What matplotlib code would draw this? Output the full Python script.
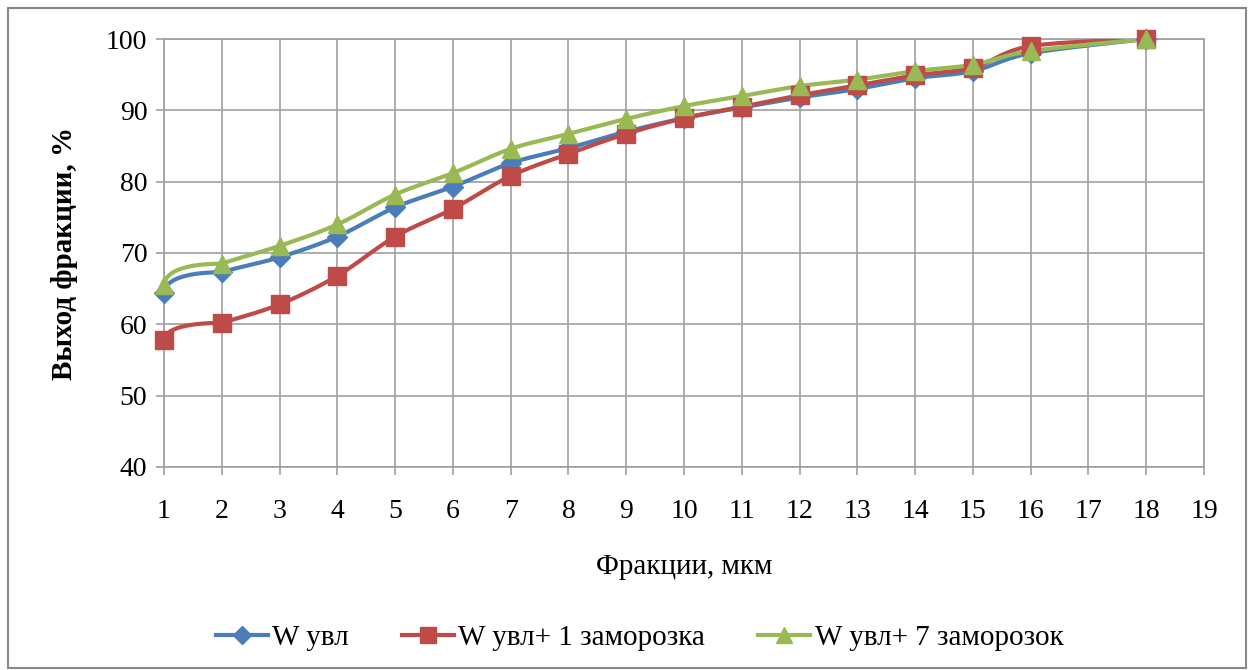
import numpy as np
import matplotlib
matplotlib.use("Agg")
import matplotlib.pyplot as plt
from matplotlib.patches import Rectangle

x_vals = [1, 2, 3, 4, 5, 6, 7, 8, 9, 10, 11, 12, 13, 14, 15, 16, 18]
w_uvl = [64.4, 67.3, 69.4, 72.3, 76.4, 79.3, 82.6, 84.7, 87.0, 88.9, 90.4, 91.8, 93.0, 94.5, 95.5, 98.0, 100.0]
w_uvl_1 = [57.8, 60.2, 62.8, 66.8, 72.3, 76.2, 80.8, 83.9, 86.7, 88.9, 90.5, 92.1, 93.5, 94.9, 96.0, 99.0, 100.0]
w_uvl_7 = [65.5, 68.5, 71.0, 74.0, 78.2, 81.2, 84.6, 86.7, 88.8, 90.6, 92.0, 93.4, 94.3, 95.5, 96.4, 98.3, 100.0]
labels = ["W увл", "W увл+ 1 заморозка", "W увл+ 7 заморозок"]
colors = ["#4A7EBB", "#BE4B48", "#98B954"]
markers = ["D", "s", "^"]
msizes = [10, 13, 13]

x_ticks = list(range(1, 20))
y_ticks = list(range(40, 101, 10))


def bez(p1, c1, c2, p2, n=30):
    t = np.linspace(0, 1, n)[:, None]
    return (1 - t) ** 3 * p1 + 3 * (1 - t) ** 2 * t * c1 + 3 * (1 - t) * t ** 2 * c2 + t ** 3 * p2


def smooth(xs, ys):
    P = np.column_stack([np.asarray(xs, float), np.asarray(ys, float)])
    segs = []
    for i in range(len(P) - 1):
        p1, p2 = P[i], P[i + 1]
        p0 = P[i - 1] if i > 0 else None
        p3 = P[i + 2] if i + 2 < len(P) else p2
        if p0 is None:
            # Excel-like steep start with bulge
            dy = p2[1] - p1[1]
            c1 = p1 + np.array([0.03, 0.85 * dy])
            c2 = p2 - np.array([0.4, 0.0])
        else:
            c1 = p1 + (p2 - p0) / 6.0
            c2 = p2 - (p3 - p1) / 6.0
        segs.append(bez(p1, c1, c2, p2))
    B = np.vstack(segs)
    return B[:, 0], B[:, 1]


plt.rcParams['font.family'] = ['Liberation Serif', 'DejaVu Serif']

fig = plt.figure(figsize=(12.54, 6.7), dpi=100)
ax = fig.add_axes([164 / 1254, 1 - 467 / 670, (1204 - 164) / 1254, (467 - 39) / 670])

for ys, lab, c, m, ms in zip([w_uvl, w_uvl_1, w_uvl_7], labels, colors, markers, msizes):
    sx, sy = smooth(x_vals, ys)
    ax.plot(sx, sy, color=c, lw=3.0, zorder=3, solid_capstyle='round')
    ax.plot(x_vals, ys, linestyle='none', marker=m, color=c, markersize=ms, zorder=4, clip_on=False)
    ax.plot([], [], color=c, lw=3.0, marker=m, markersize=ms - 1, label=lab)

ax.set_xlim(1, 19)
ax.set_ylim(40, 100)
ax.set_xticks(x_ticks)
ax.set_yticks(y_ticks)
ax.grid(True, color='#A0A0A0', lw=1.2)
for s in ax.spines.values():
    s.set_color('#A0A0A0')
    s.set_linewidth(1.2)
ax.tick_params(axis='both', labelsize=20, colors='#A0A0A0', labelcolor='black', length=6, width=1.2)
ax.tick_params(axis='x', pad=17)
ax.tick_params(axis='y', pad=6)

ax.set_xlabel("Фракции, мкм", fontsize=21, labelpad=22)
ax.set_ylabel("Выход фракции, %", fontsize=21, fontweight='bold', labelpad=20)

leg = fig.legend(loc='center', bbox_to_anchor=(0.51, 1 - 638 / 670), ncol=3, frameon=False,
                 fontsize=21, handlelength=1.8, columnspacing=1.8, handletextpad=0.15)

fig.patches.append(Rectangle((8 / 1254, 2 / 670), 1238 / 1254, 660 / 670, transform=fig.transFigure,
                             fill=False, edgecolor='#888888', lw=1.5))

fig.savefig("out.png", dpi=100)
